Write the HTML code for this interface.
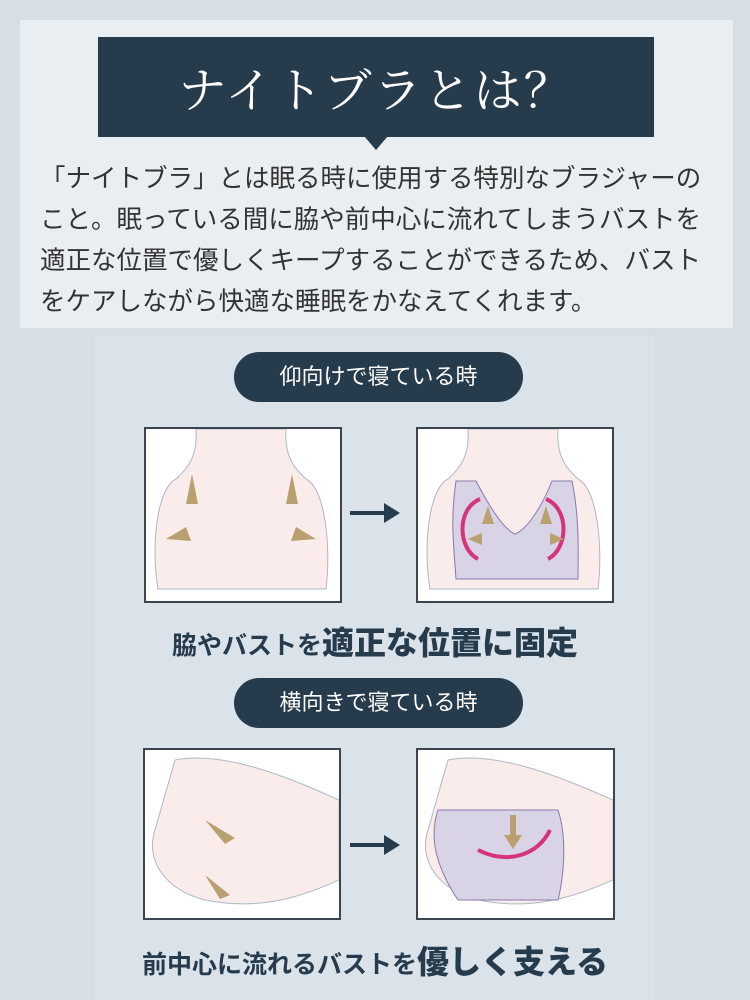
<!DOCTYPE html>
<html><head><meta charset="utf-8"><style>
body{margin:0;width:750px;height:1000px;background:#d6dfe6;position:relative;overflow:hidden;font-family:"Liberation Sans","Noto Sans CJK JP",sans-serif}
.abs{position:absolute}
#top{left:20px;top:20px;width:713px;height:308px;background:#e9eef2}
#col{left:95px;top:335px;width:560px;height:665px;background:#dbe3ea}
#title{left:98px;top:37px;width:556px;height:100px;background:#263b4c;color:#fff;font-family:"Noto Serif CJK SC",serif;font-size:48px;text-align:center;line-height:100px;letter-spacing:2px}
#tri{left:364px;top:136px;width:0;height:0;border-left:12px solid transparent;border-right:12px solid transparent;border-top:14px solid #263b4c}
#body{left:40px;top:159px;width:690px;font-size:25.5px;line-height:41px;color:#333;white-space:nowrap}
.pill{left:234px;width:289px;height:50px;border-radius:25px;background:#263b4c;color:#fff;font-size:22px;text-align:center;line-height:50px}
.box{background:#fff;border:2px solid #3a4550;box-sizing:border-box}
.cap{left:0;width:750px;text-align:center;font-weight:bold;color:#263b4c;font-size:25px}
.cap b{font-size:32px}
</style></head><body>
<div id="top" class="abs"></div>
<div id="col" class="abs"></div>
<div id="title" class="abs">ナイトブラとは？</div>
<div id="tri" class="abs"></div>
<div id="body" class="abs">「ナイトブラ」とは眠る時に使用する特別なブラジャーの<br>こと。眠っている間に脇や前中心に流れてしまうバストを<br>適正な位置で優しくキープすることができるため、バスト<br>をケアしながら快適な睡眠をかなえてくれます。</div>

<div class="abs pill" style="top:352px">仰向けで寝ている時</div>
<div class="abs box" style="left:144px;top:427px;width:198px;height:176px">
<svg width="194" height="172"><path d="M50 0 C52 30 40 40 30 50 C10 60 5 120 12 160 L180 160 C185 120 180 60 160 50 C150 40 138 30 140 0Z" fill="#f9ecea" stroke="#aeb9c2"/>
<path d="M40 75 l6-30 l6 30z M140 75 l6-30 l6 30z" fill="#b8a070"/><path d="M20 110 l20-12 l5 14z M170 110 l-20-12 l-5 14z" fill="#b8a070"/></svg></div>
<div class="abs box" style="left:416px;top:427px;width:198px;height:176px">
<svg width="194" height="172"><path d="M50 0 C52 30 40 40 30 50 C10 60 5 120 12 160 L180 160 C185 120 180 60 160 50 C150 40 138 30 140 0Z" fill="#f9ecea" stroke="#aeb9c2"/>
<path d="M38 52 L58 52 C70 75 85 100 97 105 C110 100 125 75 134 52 L154 52 C162 90 160 130 160 150 L38 150 C36 120 32 90 38 52Z" fill="#d9d3e6" stroke="#8a78b0"/>
<path d="M62 70 C38 80 40 120 60 130 M128 70 C152 80 150 120 130 130" fill="none" stroke="#d6337a" stroke-width="4"/>
<path d="M64 95 l6-18 l6 18z M122 95 l6-18 l6 18z M50 110 l14-6 l0 12z M146 110 l-14-6 l0 12z" fill="#b8a070"/></svg></div>
<svg class="abs" style="left:350px;top:503px" width="52" height="20"><path d="M0 10 H36" stroke="#263b4c" stroke-width="4"/><path d="M34 0 L50 10 L34 20Z" fill="#263b4c"/></svg>
<div class="abs cap" style="top:618px">脇やバストを<b>適正な位置に固定</b></div>

<div class="abs pill" style="top:678px">横向きで寝ている時</div>
<div class="abs box" style="left:143px;top:748px;width:198px;height:172px">
<svg width="194" height="168"><path d="M30 10 C80 0 150 30 194 50 L194 130 C150 150 110 160 60 150 C20 140 0 110 10 80Z" fill="#f9ecea" stroke="#aeb9c2"/>
<path d="M60 70 l30 18 l-10 6z M60 125 l25 20 l-10 4z" fill="#b8a070"/></svg></div>
<div class="abs box" style="left:416px;top:748px;width:199px;height:172px">
<svg width="195" height="168"><path d="M30 10 C80 0 150 30 195 50 L195 130 C150 150 110 160 60 150 C20 140 0 110 10 80Z" fill="#f9ecea" stroke="#aeb9c2"/>
<path d="M20 60 L140 60 C150 90 145 130 140 150 L40 150 C20 120 10 90 20 60Z" fill="#d9d3e6" stroke="#8a78b0"/>
<path d="M60 100 C90 115 120 105 132 80" fill="none" stroke="#d6337a" stroke-width="4"/>
<path d="M92 65 l0 20 l-6 0 l9 14 l9-14 l-6 0 l0-20z" fill="#b8a070"/></svg></div>
<svg class="abs" style="left:350px;top:835px" width="52" height="20"><path d="M0 10 H36" stroke="#263b4c" stroke-width="4"/><path d="M34 0 L50 10 L34 20Z" fill="#263b4c"/></svg>
<div class="abs cap" style="top:937px">前中心に流れるバストを<b>優しく支える</b></div>
</body></html>
